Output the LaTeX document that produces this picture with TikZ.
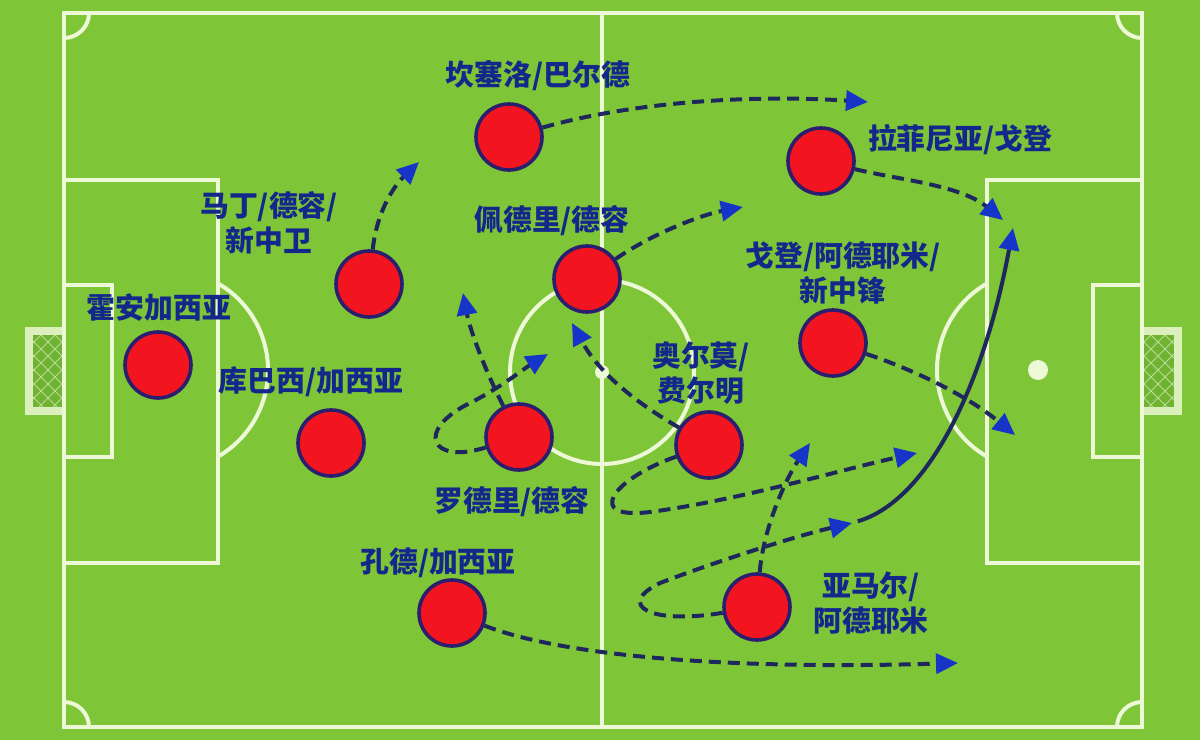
\documentclass[tikz,border=0pt]{standalone}
\usepackage{fontspec}
\newfontfamily\cjk{Noto Sans CJK SC}
\usepackage{xcolor}
\usepackage{tikz}
\usetikzlibrary{arrows.meta}
\usetikzlibrary{positioning}

\definecolor{grass}{RGB}{126,198,56}
\definecolor{chalk}{RGB}{236,248,214}
\definecolor{netgreen}{RGB}{112,178,50}
\definecolor{navy}{RGB}{30,40,92}
\definecolor{tipblue}{RGB}{22,52,200}
\definecolor{inkblue}{RGB}{20,40,140}
\definecolor{shirtred}{RGB}{242,20,30}
\definecolor{rim}{RGB}{44,30,110}

\begin{document}
\begin{tikzpicture}[x=0.5mm,y=-0.5mm]
\tikzstyle{chalkline}=[draw=chalk,line width=2mm];
\tikzstyle{netline}=[draw=chalk!60!netgreen,line width=0.5mm];
\tikzstyle{player}=[circle,draw=rim,fill=shirtred,line width=1.8mm,minimum size=33mm,inner sep=0pt];
\tikzstyle{plabel}=[text=inkblue,font=\cjk\bfseries\fontsize{41}{50}\selectfont,align=center,inner sep=0pt];
\tikzstyle{run}=[draw=navy,line width=2mm,dash pattern=on 6mm off 3.5mm,-{Triangle[length=11mm,width=10mm,color=tipblue]}];
\tikzstyle{sprint}=[draw=navy,line width=2mm,-{Triangle[length=11mm,width=10mm,color=tipblue]}];

\useasboundingbox (0,0) rectangle (1200,740);
\fill[grass] (0,0) rectangle (1200,740);

% goals
\fill[chalk!85!grass] (25,327) rectangle (64,415);
\fill[netgreen] (33,335) rectangle (62,407);
\fill[chalk!85!grass] (1142,327) rectangle (1182,415);
\fill[netgreen] (1144,335) rectangle (1174,407);
\begin{scope}
\clip (33,335) rectangle (62,407) (1144,335) rectangle (1174,407);
\foreach \k in {-84,-70,...,84} {
  \draw[netline] (20,370+\k) -- ++(60,60) (20,370+\k) -- ++(60,-60);
  \draw[netline] (1130,370+\k) -- ++(60,60) (1130,370+\k) -- ++(60,-60);
}
\end{scope}

% pitch
\draw[chalkline] (64,13) rectangle (1142,727);
\draw[chalkline] (602,13) -- (602,727);
\draw[chalkline] (602,372) circle[radius=92];
\draw[chalkline] (64,180) rectangle (218,563);
\draw[chalkline] (64,285) rectangle (112,457);
\draw[chalkline] (987,180) rectangle (1142,563);
\draw[chalkline] (1093,285) rectangle (1142,457);
\draw[chalkline] (218,283.4) arc[start angle=-60,end angle=60,radius=100];
\draw[chalkline] (987,456.6) arc[start angle=120,end angle=240,radius=100];
\begin{scope}
\clip (64,13) rectangle (1142,727);
\foreach \cx/\cy in {64/13,1142/13,64/727,1142/727}
  \draw[chalkline] (\cx,\cy) circle[radius=25];
\end{scope}
\fill[chalk] (602,372) circle[radius=7];
\fill[chalk] (1038,370) circle[radius=10];

\node[player] (gk) at (158,365) {};
\node[player] (cubarsi) at (331,443) {};
\node[player] (martin) at (369,284) {};
\node[player] (kounde) at (452,613) {};
\node[player] (cancelo) at (509,137) {};
\node[player] (pedri) at (587,279) {};
\node[player] (rodri) at (519,437) {};
\node[player] (olmo) at (709,445) {};
\node[player] (yamal) at (757,607) {};
\node[player] (raphinha) at (821,161) {};
\node[player] (gordon) at (833,343) {};

\node[plabel] (gk-txt) at (159,308) {霍安加西亚};
\node[plabel] (cubarsi-txt) at (311,382) {库巴西/加西亚};
\node[plabel] (martin-txt) at (269,223) {马丁/德容/\\新中卫};
\node[plabel] (kounde-txt) at (438,563) {孔德/加西亚};
\node[plabel] (cancelo-txt) at (538,76) {坎塞洛/巴尔德};
\node[plabel] (pedri-txt) at (552,221) {佩德里/德容};
\node[plabel] (rodri-txt) at (512,502) {罗德里/德容};
\node[plabel] (olmo-txt) at (701,373) {奥尔莫/\\费尔明};
\node[plabel] (yamal-txt) at (871,603) {亚马尔/\\阿德耶米};
\node[plabel] (raphinha-txt) at (960,140) {拉菲尼亚/戈登};
\node[plabel] (gordon-txt) at (843,273) {戈登/阿德耶米/\\新中锋};

\coordinate (t-cancelo) at (868,102);
\coordinate (t-martin) at (419,162);
\coordinate (t-pedri) at (743,207);
\coordinate (t-raphinha) at (1003,220);
\coordinate (t-gordon) at (1015,435);
\coordinate (t-yamal-a) at (852,523);
\coordinate (t-yamal-b) at (1013,228);
\coordinate (t-yamal-c) at (810,443);
\coordinate (t-olmo-a) at (917,453);
\coordinate (t-olmo-b) at (572,323);
\coordinate (t-rodri-a) at (548,354);
\coordinate (t-rodri-b) at (463,293);
\coordinate (t-kounde) at (958,663);

\path[draw] [run] (cancelo) .. controls (640,100) and (760,95) .. (t-cancelo);
\path[draw] [run] (martin) .. controls (377,210) and (395,185) .. (t-martin);
\path[draw] [run] (pedri) .. controls (650,235) and (700,215) .. (t-pedri);
\path[draw] [run] (raphinha) .. controls (900,180) and (960,185) .. (t-raphinha);
\path[draw] [run] (gordon) .. controls (900,365) and (960,390) .. (t-gordon);
\path[draw] [run] (yamal) .. controls (650,625) and (615,605) .. (660,583) .. controls (720,560) and (800,535) .. (t-yamal-a);
\path[draw] [sprint,shorten <=3mm] (t-yamal-a) .. controls (930,500) and (985,380) .. (t-yamal-b);
\path[draw] [run] (yamal) .. controls (763,530) and (785,480) .. (t-yamal-c);
\path[draw] [run] (olmo) .. controls (610,480) and (585,520) .. (650,512) .. controls (740,500) and (840,470) .. (t-olmo-a);
\path[draw] [run] (olmo) .. controls (640,405) and (600,375) .. (t-olmo-b);
\path[draw] [run] (rodri) .. controls (430,465) and (415,430) .. (470,403) .. controls (500,388) and (525,368) .. (t-rodri-a);
\path[draw] [run] (rodri) .. controls (485,370) and (470,330) .. (t-rodri-b);
\path[draw] [run] (kounde) .. controls (560,655) and (720,670) .. (t-kounde);
\end{tikzpicture}
\end{document}
